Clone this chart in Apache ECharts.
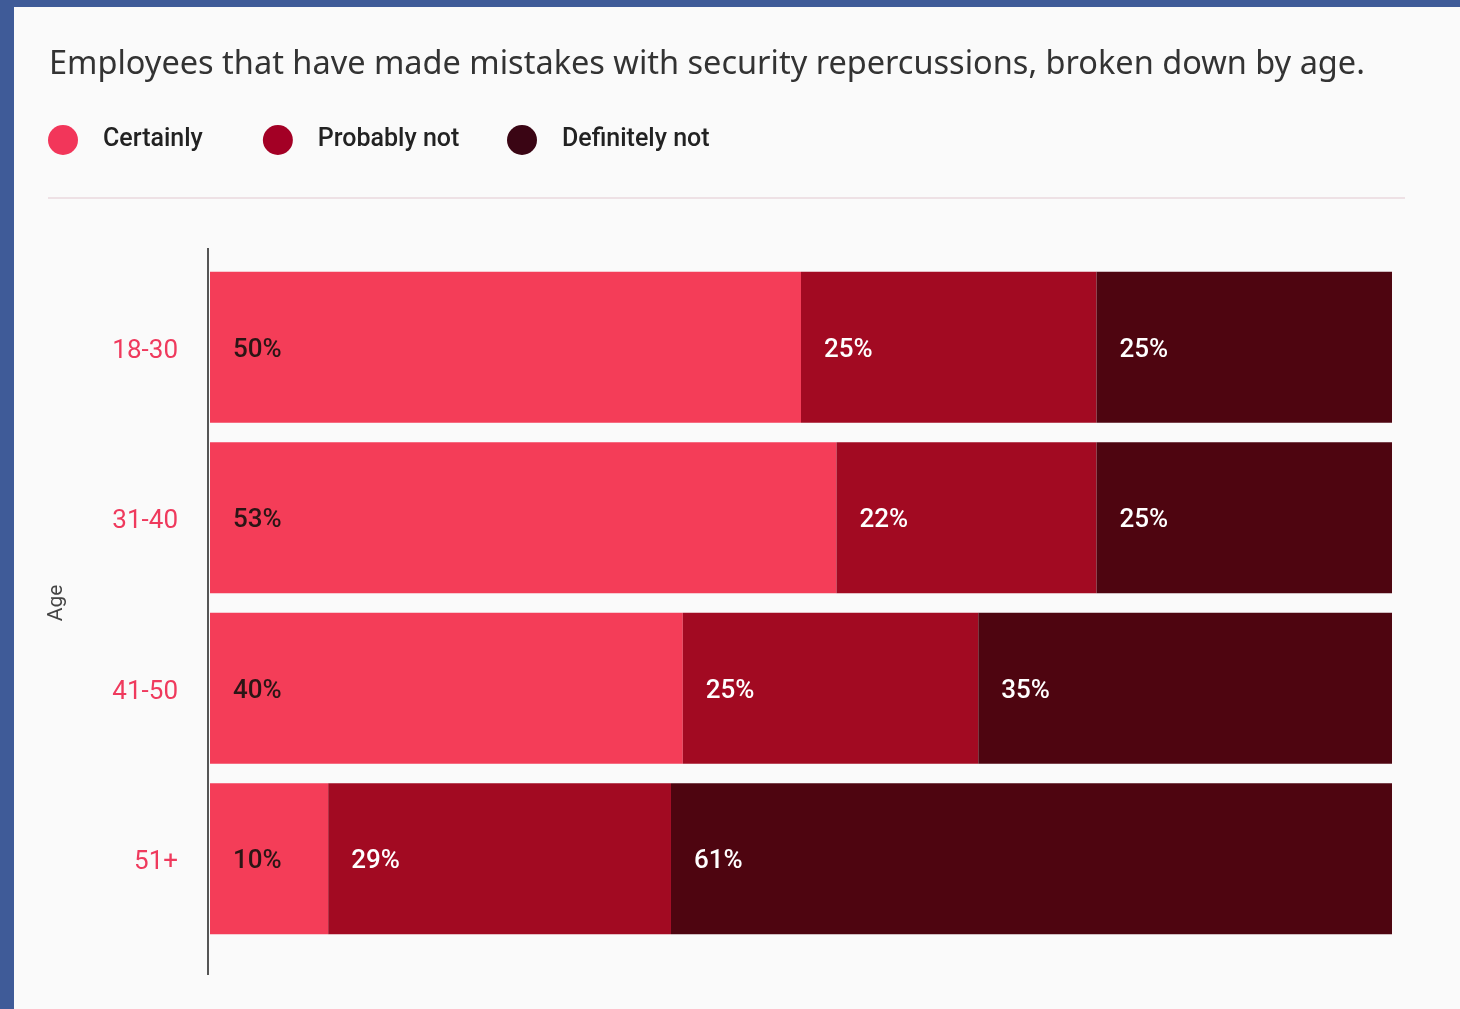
<!DOCTYPE html>
<html>
<head>
<meta charset="utf-8">
<script src="https://cdn.jsdelivr.net/npm/echarts@6/dist/echarts.min.js"></script>
<style>
  html, body { margin: 0; padding: 0; background: #3f5b98; }
  #chart { position: absolute; left: 14px; top: 7px; width: 1446px; height: 1002px; background: #fafafa; }
</style>
</head>
<body>
<div id="chart"></div>
<script>
// age groups, top to bottom
var ages = ['18-30', '31-40', '41-50', '51+'];
var series_names = ['Certainly', 'Probably not', 'Definitely not'];
// percentages per age group
var certainly = [50, 53, 40, 10];
var probably_not = [25, 22, 25, 29];
var definitely_not = [25, 25, 35, 61];

var bar_colors = ['#f43d58', '#a20a22', '#4e0510'];
var legend_colors = ['#f2365a', '#a30025', '#3a0514'];
var label_colors = ['#2a1515', '#ffffff', '#ffffff'];

function make_series(idx, data) {
	return {
		name: series_names[idx],
		type: 'bar',
		stack: 'total',
		barCategoryGap: '11.5%',
		data: data,
		itemStyle: { color: bar_colors[idx] },
		label: {
			show: true,
			position: 'insideLeft',
			distance: 23,
			offset: [0, 3],
			formatter: '{c}%',
			color: label_colors[idx],
			fontSize: 26,
			fontWeight: 500,
			fontFamily: 'Roboto'
		}
	};
}

var legend_text = { fontSize: 25, fontWeight: 500, color: '#222', fontFamily: 'Roboto', padding: [0, 0, 0, 20] };
function legend_item(idx) {
	return { name: series_names[idx], itemStyle: { color: legend_colors[idx] } };
}

var myChart = echarts.init(document.getElementById('chart'));
var option = {
	backgroundColor: '#fafafa',
	animation: false,
	title: {
		text: 'Employees that have made mistakes with security repercussions, broken down by age.',
		left: 30,
		top: 36,
		textStyle: { fontSize: 32.5, fontWeight: 'normal', color: '#333', fontFamily: 'Noto Sans' }
	},
	legend: [{
		left: 29,
		top: 113,
		icon: 'circle',
		itemWidth: 30,
		itemHeight: 30,
		itemGap: 60,
		data: [legend_item(0), legend_item(1)],
		textStyle: legend_text
	}, {
		left: 488,
		top: 113,
		icon: 'circle',
		itemWidth: 30,
		itemHeight: 30,
		data: [legend_item(2)],
		textStyle: legend_text
	}],
	graphic: [
		{ type: 'line', shape: { x1: 34, y1: 191, x2: 1391, y2: 191 }, style: { stroke: '#ead9de', lineWidth: 1.5 } },
		{ type: 'line', shape: { x1: 194, y1: 241, x2: 194, y2: 968 }, style: { stroke: '#555', lineWidth: 2 } }
	],
	grid: { left: 196, right: 68, top: 255, height: 682, containLabel: false },
	xAxis: {
		type: 'value',
		min: 0,
		max: 100,
		show: false
	},
	yAxis: {
		type: 'category',
		data: ages,
		inverse: true,
		name: 'Age',
		nameLocation: 'middle',
		nameRotate: 90,
		nameGap: 143,
		nameTextStyle: { fontSize: 21, color: '#444', fontFamily: 'Roboto' },
		axisLine: { show: false },
		axisTick: { show: false },
		axisLabel: {
			margin: 32,
			formatter: '{a|{value}}',
			rich: {
				a: { fontSize: 26, color: '#ef3a5d', fontFamily: 'Roboto', padding: [8, 0, 0, 0] }
			}
		}
	},
	series: [
		make_series(0, certainly),
		make_series(1, probably_not),
		make_series(2, definitely_not)
	]
};
myChart.setOption(option);
window.addEventListener('resize', function () {
	myChart.resize();
});
</script>
</body>
</html>
